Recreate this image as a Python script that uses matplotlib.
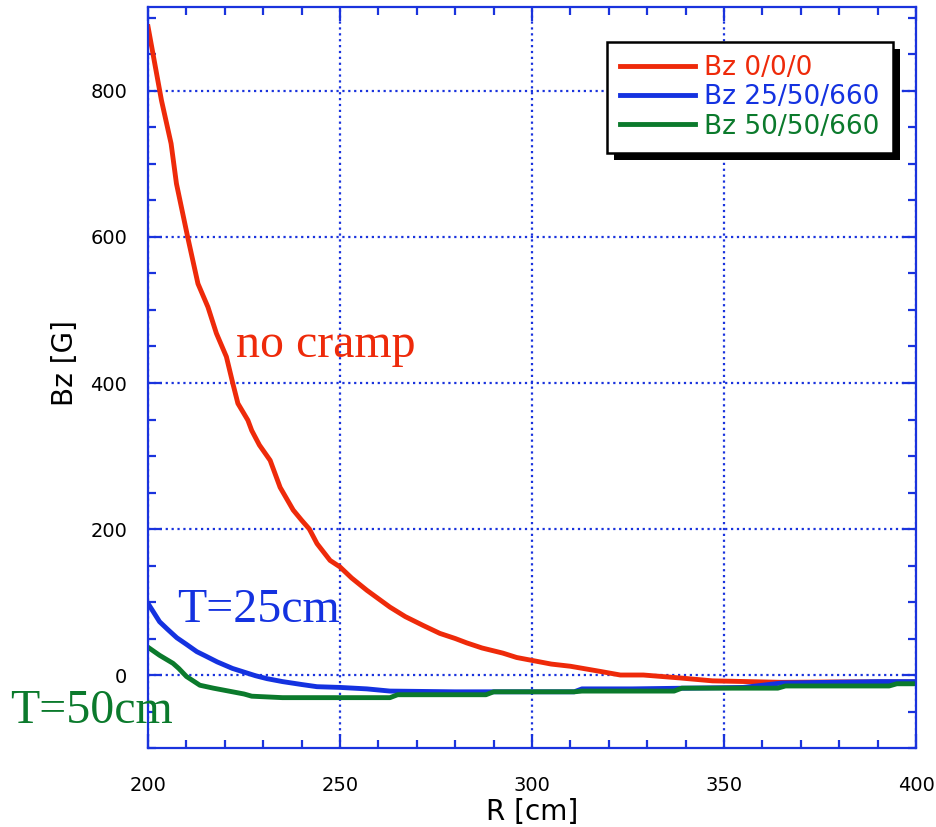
import numpy as np
import matplotlib
matplotlib.use("Agg")
import matplotlib.pyplot as plt
import matplotlib.patheffects as pe
from matplotlib.ticker import MultipleLocator

# Bz along R, three cramp configurations
r_red = [200, 203.5, 206, 207.4, 210.4, 213, 215.6, 217.8, 220.4, 222.1, 223.4, 226, 227,
         229, 231.8, 234.4, 237.8, 240, 242, 244, 247.4, 250, 253, 257, 263, 267, 271.6,
         276, 280, 283, 287, 292.4, 296, 300, 305, 310, 317.7, 323, 329, 338.5, 347, 365,
         380, 400]
bz_red = [888, 787, 728, 673, 598, 536, 504, 468, 436, 399, 372, 349, 335,
          315, 294, 257, 226, 212, 200, 180, 157, 148, 133, 116, 93, 80, 68,
          57, 50, 44, 37, 30, 24, 20, 15, 12, 5, 0, 0, -4, -8, -10,
          -9.5, -9.5]

r_blue = [200, 203, 205, 207.5, 210, 212.7, 215, 218, 222, 225, 228, 231, 235, 240, 244,
          250, 257, 263, 280, 311, 313, 326, 355, 365, 390, 400]
bz_blue = [98, 73, 63, 51, 42, 32, 26, 18, 9, 4, -1, -5, -9, -13, -16,
           -17, -19, -22, -23, -23, -19, -19, -17, -11, -9, -9]

r_green = [200, 203, 206.5, 208, 210, 213.5, 217, 222, 225, 227, 235, 248, 263, 265,
           288, 290, 311, 313, 337, 339, 364, 366, 393, 395, 400]
bz_green = [38, 27, 16, 9, -2, -14, -18, -23, -26, -29, -31, -31, -31, -27,
            -27, -23, -23, -22, -22, -18, -18, -15, -15, -12, -12]

labels = ["Bz 0/0/0", "Bz 25/50/660", "Bz 50/50/660"]

RED = "#ee2a0a"
BLUE = "#1432e0"
GREEN = "#0b7a2c"
AXBLUE = "#1a33dd"

fig = plt.figure(figsize=(9.37, 8.27), dpi=100)
ax = fig.add_axes([0.158, 0.0955, 0.8196, 0.896])

ax.plot(r_red, bz_red, color=RED, lw=3.5, label=labels[0])
ax.plot(r_blue, bz_blue, color=BLUE, lw=3.5, label=labels[1])
ax.plot(r_green, bz_green, color=GREEN, lw=3.5, label=labels[2])

ax.set_xlim(200, 400)
ax.set_ylim(-100, 915)
ax.xaxis.set_major_locator(MultipleLocator(50))
ax.xaxis.set_minor_locator(MultipleLocator(10))
ax.yaxis.set_major_locator(MultipleLocator(200))
ax.yaxis.set_minor_locator(MultipleLocator(50))

ax.grid(True, which="major", color=AXBLUE, linestyle=":", linewidth=1.6)
for s in ax.spines.values():
    s.set_color(AXBLUE)
    s.set_linewidth(1.6)
ax.tick_params(which="both", direction="in", top=True, right=True, color=AXBLUE, width=1.6)
ax.tick_params(which="major", length=10)
ax.tick_params(which="minor", length=6)
ax.tick_params(axis="x", which="major", labelsize=14, pad=20)
ax.tick_params(axis="y", which="major", labelsize=14, pad=15)

ax.set_xlabel("R [cm]", fontsize=20, labelpad=2)
ax.set_ylabel("Bz [G]", fontsize=20)
ax.yaxis.set_label_coords(-0.090, 0.52)

serif = "Liberation Serif"
ax.text(223, 435, "no cramp", color=RED, fontsize=34.5, family=serif, va="baseline")
ax.text(207.5, 72, "T=25cm", color=BLUE, fontsize=34.5, family=serif, va="baseline")
ax.text(164.0, -66, "T=50cm", color=GREEN, fontsize=34.5, family=serif, va="baseline",
        clip_on=False)

leg = ax.legend(loc="upper right", bbox_to_anchor=(0.970, 0.9528), borderaxespad=0,
                fontsize=19, labelcolor="linecolor", fancybox=False, edgecolor="black",
                framealpha=1, handlelength=2.85, handletextpad=0.35, labelspacing=0.12,
                borderpad=0.5)
leg.get_frame().set_linewidth(1.8)
leg.get_frame().set_path_effects([
    pe.SimplePatchShadow(offset=(5, -5), shadow_rgbFace="black", alpha=1),
    pe.Normal()])

fig.savefig("out.png", dpi=100)
